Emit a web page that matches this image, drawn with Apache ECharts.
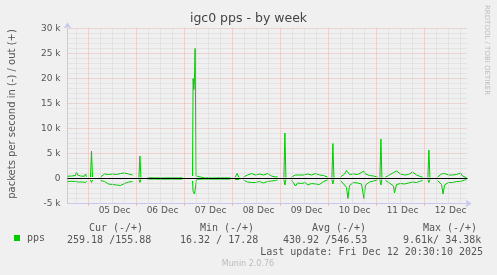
<!DOCTYPE html>
<html><head><meta charset="utf-8">
<script src="https://cdn.jsdelivr.net/npm/echarts@6/dist/echarts.min.js"></script>
<style>html,body{margin:0;padding:0;background:#F0F0F0}#c{width:497px;height:275px}</style>
</head><body><div id="c"></div>
<script>
// hours relative to 05 Dec 00:00; null = no data
const hours = [
 -10.5,-9.5,-8.5,-7.5,-6.5,-6,-5.5,-5,-4,-3,-2,-1.5,-1, -0.5,
 1,1.5,2, 2.5,
 6,7,8,9,10,11,12,13,14,15,16,17,18,19,20,21,22, 23,
 25.2,25.7,26.2, 26.7,
 29.5,33,37,41,45,47, 48,
 52,52.3,52.7,53,53.3,53.8,54,58,62,66,70,71, 71.5,
 73.3,74.3,75.2, 76,
 77.5,78.5,79.5,80.5,81.5,82.5,83.5,84.5,85.5,86.5,87.5,88.5,89.5,90.5,91.5,92.5,93.5,94.5, 95.5,
 97.7,98.2,98.7, 99.5,
 101.5,102.5,103.5,104.5,105.5,106.5,107.5,108.5,109.5,110.5,111.5,112.5,113.5,114.5,115.5,116.5,117.5,118.5,119.5, 120,
 121.7,122.2,122.7, 123.5,
 126,127,128,129,129.7,130.5,131.5,132.5,133.5,134.5,135.5,136.5,137.7,138.5,139.5,140.5,141.5,142.5,143.5,144.5, 145.3,
 145.7,146.2,146.7, 147.5,
 148.5,149.5,150.5,151.5,152.5,153,154,155,156,157,158,159,160,161,162,163,164,165,166,167, 167.8,
 169.7,170.2,170.7, 171.5,
 174.5,175.5,176.5,177.3,178,179,180,181,182,183,184,185,186,187,188,189
];
const outPps = [
 450,400,500,450,600,1300,700,400,500,350,450,900,400, null,
 300,5500,300, null,
 300,600,900,1000,800,700,900,600,800,700,1000,600,1100,700,900,500,700, null,
 200,4500,200, null,
 150,120,100,130,110,120, null,
 500,20000,17800,20000,26000,500,150,120,100,130,110,120, null,
 200,1000,200, null,
 300,500,700,600,1000,800,700,600,900,1100,700,600,1000,700,500,400,300,350, null,
 200,9100,200, null,
 300,600,700,600,700,800,700,600,900,800,700,800,1000,800,700,900,600,400,300, null,
 200,7000,200, null,
 300,600,900,1600,1200,800,1000,900,700,800,1000,1200,1500,900,700,600,800,500,400,300, null,
 200,7900,200, null,
 300,500,700,900,1200,1000,1500,1300,900,800,700,900,800,1000,1300,900,700,600,400,300, null,
 200,5700,200, null,
 300,700,900,800,1000,900,700,600,700,600,800,700,1100,500,300,160
];
const inPps = [
 600,650,550,700,600,800,650,700,500,700,600,800,550, null,
 300,800,300, null,
 400,700,600,900,1100,800,1200,900,1300,1000,1400,1200,1000,900,700,1100,600, null,
 200,800,200, null,
 120,100,130,110,120,100, null,
 500,2600,2900,3100,3400,800,150,100,130,110,120,100, null,
 200,300,200, null,
 300,500,700,900,800,1000,800,700,600,800,900,700,600,800,500,400,400,300, null,
 200,1300,200, null,
 300,600,1500,900,700,1000,1200,800,1300,1600,1000,900,1100,900,1200,800,600,400,300, null,
 200,1100,200, null,
 400,800,1300,1800,4000,1400,1000,800,700,900,800,1100,4000,1300,900,700,600,500,400,300, null,
 200,1300,200, null,
 400,700,900,1000,1500,2900,1200,900,1000,800,1100,1300,900,800,700,900,800,600,500,400, null,
 200,800,200, null,
 400,800,1200,3100,1300,900,800,700,800,700,600,500,600,400,300,260
];
const xTickHours = [12,36,60,84,108,132,156,180];
const xTickLabels = ['05 Dec','06 Dec','07 Dec','08 Dec','09 Dec','10 Dec','11 Dec','12 Dec'];
const yTickValues = [-5000,0,5000,10000,15000,20000,25000,30000];
const yTickLabels = ['-5 k','0','5 k','10 k','15 k','20 k','25 k','30 k'];
const dayLines = [0,24,48,72,96,120,144,168];
const legendHeaders = ['Cur (-/+)','Min (-/+)','Avg (-/+)','Max (-/+)'];
const legendValues = ['259.18 /155.88','16.32 / 17.28','430.92 /546.53','9.61k/ 34.38k'];
const titleText = 'igc0 pps - by week';
const yName = 'packets per second in (-) / out (+)';
const lastUpdate = 'Last update: Fri Dec 12 20:30:10 2025';

const sixLines = [];
for (let h = -6; h <= 186; h += 6) if (h % 24 !== 0) sixLines.push(h);

const outData = hours.map((h, i) => [h, outPps[i] == null ? '-' : outPps[i]]);
const inData = hours.map((h, i) => [h, inPps[i] == null ? '-' : -inPps[i]]);

const GREEN = '#00CC00';
const MAJ = '#EBB4B4', MIN = '#D6D6D6';
const mono = '"DejaVu Sans Mono", monospace';
const sans = '"DejaVu Sans", sans-serif';

const chart = echarts.init(document.getElementById('c'), null, {renderer: 'canvas'});
const hdrX = [116, 227, 339, 450];
const valX = [67, 180, 283, 403];
const graphics = [];
graphics.push({type:'text', x:12, y:114, rotation:Math.PI/2, silent:true,
  style:{text:yName, fill:'#555', fontSize:10, fontFamily:sans, align:'center', verticalAlign:'middle'}});
graphics.push({type:'text', x:487, y:5, rotation:-Math.PI/2, silent:true,
  style:{text:'RRDTOOL / TOBI OETIKER', fill:'#BDBDBD', fontSize:7, fontFamily:sans, align:'left', verticalAlign:'middle'}});
legendHeaders.forEach((t, i) => graphics.push({type:'text', x:hdrX[i], y:228, silent:true,
  style:{text:t, fill:'#555', fontSize:10, fontFamily:mono, align:'center', verticalAlign:'middle'}}));
legendValues.forEach((t, i) => graphics.push({type:'text', x:valX[i], y:240, silent:true,
  style:{text:t, fill:'#555', fontSize:10, fontFamily:mono, align:'left', verticalAlign:'middle'}}));
graphics.push({type:'text', x:483, y:252, silent:true,
  style:{text:lastUpdate, fill:'#555', fontSize:10, fontFamily:mono, align:'right', verticalAlign:'middle'}});
graphics.push({type:'text', x:248, y:264, silent:true,
  style:{text:'Munin 2.0.76', fill:'#BBBBBB', fontSize:8, fontFamily:sans, align:'center', verticalAlign:'middle'}});

chart.setOption({
  animation: false,
  backgroundColor: '#F0F0F0',
  title: {text: titleText, left: 'center', top: 12, padding: 0,
    textStyle: {fontSize: 12.5, fontWeight: 'normal', color: '#444', fontFamily: sans}},
  legend: {data: ['pps'], left: 14, top: 233, padding: 0, icon: 'rect', itemWidth: 6, itemHeight: 6,
    selectedMode: false, textStyle: {fontSize: 10, color: '#555', fontFamily: mono, padding: [0,0,0,2]}},
  grid: {left: 67.5, top: 28.5, width: 400, height: 175, containLabel: false},
  xAxis: {type: 'value', min: -10.5, max: 189.5,
    axisLine: {onZero: false, show: true, symbol: ['none','arrow'], symbolSize: [6,6], symbolOffset: [0,4],
      lineStyle: {color: '#C8C8EE', width: 1}},
    axisTick: {show: true, customValues: dayLines, length: 2, inside: false, lineStyle: {color: MAJ}},
    axisLabel: {customValues: xTickHours, margin: 3, fontSize: 9, color: '#555', fontFamily: sans,
      padding: [0,0,0,4],
      formatter: v => xTickLabels[xTickHours.indexOf(v)] || ''},
    splitLine: {show: false}},
  yAxis: {type: 'value', min: -5000, max: 30000, interval: 5000,
    axisLine: {onZero: false, show: true, symbol: ['none','arrow'], symbolSize: [6,6], symbolOffset: [0,6],
      lineStyle: {color: '#C8C8EE', width: 1}},
    axisTick: {show: false},
    axisLabel: {margin: 7, fontSize: 9, color: '#555', fontFamily: sans,
      formatter: v => yTickLabels[yTickValues.indexOf(v)]},
    splitLine: {show: true, lineStyle: {color: MAJ, type: 'dotted', width: 1}},
    minorTick: {show: false, splitNumber: 5},
    minorSplitLine: {show: true, lineStyle: {color: MIN, type: 'dotted', width: 1}}},
  graphic: graphics,
  series: [
    {type: 'line', name: 'grid', data: [], silent: true, z: 1,
      markLine: {silent: true, symbol: ['none','none'], label: {show: false}, animation: false,
        emphasis: {disabled: true},
        data: sixLines.map(h => ({xAxis: h, lineStyle: {color: MIN, type: 'dotted', width: 1}}))
          .concat(dayLines.map(h => ({xAxis: h, lineStyle: {color: MAJ, type: 'dotted', width: 1}})))}},
    {type: 'line', name: 'pps', data: outData, showSymbol: false, symbol: 'none', connectNulls: false,
      lineStyle: {color: GREEN, width: 1}, itemStyle: {color: GREEN}, z: 3, silent: true},
    {type: 'line', name: 'pps', data: inData, showSymbol: false, symbol: 'none', connectNulls: false,
      lineStyle: {color: GREEN, width: 1}, itemStyle: {color: GREEN}, z: 3, silent: true},
    {type: 'line', name: 'zero', data: [], silent: true, z: 5,
      markLine: {silent: true, symbol: ['none','none'], label: {show: false}, animation: false,
        emphasis: {disabled: true},
        data: [{yAxis: 0, lineStyle: {color: '#000', type: 'solid', width: 1}}]}}
  ]
});
</script></body></html>
